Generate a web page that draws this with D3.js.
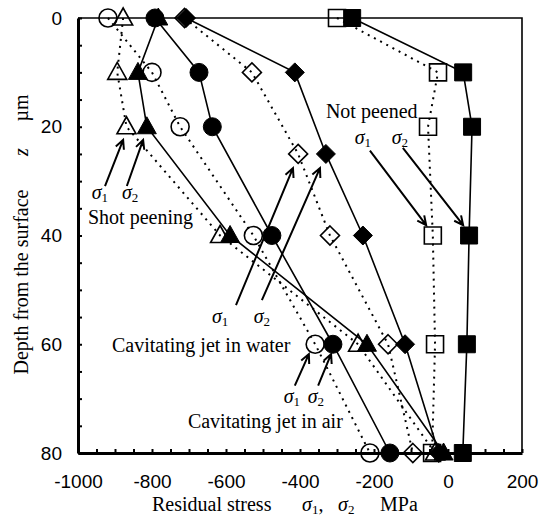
<!DOCTYPE html>
<html>
<head>
<meta charset="utf-8">
<title>Residual stress vs depth</title>
<script src="https://cdn.jsdelivr.net/npm/d3@7"></script>
<style>
body { margin: 0; background: #fff; }
.tick text { font-family: "Liberation Sans", Arial, sans-serif; font-size: 19px; fill: #000; }
.serif { font-family: "Liberation Serif", "Times New Roman", serif; font-size: 20px; fill: #000; }
</style>
</head>
<body>
<script>
// depth below surface, um
var depth = [0, 10, 20, 40, 60, 80];
var depthWater = [0, 10, 25, 40, 60, 80];

// residual stress, MPa  (sigma1 = open marker + dotted, sigma2 = filled + solid)
var shotSigma1 = [-878, -894, -869, -616, -243, -35];
var shotSigma2 = [-783, -838, -814, -589, -219, -12];
var waterSigma1 = [-712, -530, -405, -319, -162, -95];
var waterSigma2 = [-708, -414, -330, -230, -116, -25];
var airSigma1 = [-919, -800, -724, -526, -359, -211];
var airSigma2 = [-792, -673, -637, -476, -311, -157];
var plainSigma1 = [-300, -27, -54, -41, -35, -43];
var plainSigma2 = [-259, 41, 65, 57, 51, 40];

var xTicks = d3.range(-1000, 201, 50);
var xLabels = [-1000, -800, -600, -400, -200, 0, 200];
var yTicks = d3.range(0, 81, 5);
var yLabels = [0, 20, 40, 60, 80];

var series = [
  { shape: "triangle", depth: depth, s1: shotSigma1, s2: shotSigma2 },
  { shape: "diamond", depth: depthWater, s1: waterSigma1, s2: waterSigma2 },
  { shape: "circle", depth: depth, s1: airSigma1, s2: airSigma2 },
  { shape: "square", depth: depth, s1: plainSigma1, s2: plainSigma2 }
];

// annotations (in data units: MPa, um)
var notes = [
  { t: "Shot peening", v: -973, d: 37.9 },
  { t: "Cavitating jet in water", v: -908, d: 61.4 },
  { t: "Cavitating jet in air", v: -703, d: 75.4 },
  { t: "Not peened", v: -330, d: 18.3 }
];
var sigmaNotes = [
  { n: "1", v: -941, d: 33.3 }, { n: "2", v: -859, d: 33.3 },
  { n: "1", v: -616, d: 56.1 }, { n: "2", v: -503, d: 56.1 },
  { n: "1", v: -422, d: 70.8 }, { n: "2", v: -357, d: 70.8 },
  { n: "1", v: -230, d: 23.1 }, { n: "2", v: -130, d: 23.1 }
];
var arrows = [
  [-927, 30.9, -878, 22.4], [-868, 30.9, -824, 22.4],
  [-573, 52.8, -419, 27.6], [-503, 51.9, -346, 27.6],
  [-414, 67.6, -376, 61.8], [-351, 67.6, -316, 61.8],
  [-211, 24.4, -59, 38.1], [-122, 23.9, 41, 38.1]
];

var W = 539, H = 518;
var svg = d3.select("body").append("svg").attr("width", W).attr("height", H);

var x = d3.scaleLinear().domain([-1000, 200]).range([78, 522]);
var y = d3.scaleLinear().domain([0, 80]).range([18, 453]);

// top / right frame
svg.append("path")
  .attr("d", "M" + x(-1000) + "," + y(0) + "H" + x(200) + "V" + y(80))
  .attr("fill", "none").attr("stroke", "#000").attr("stroke-width", 1.6);

svg.append("g")
  .attr("transform", "translate(0," + y(80) + ")")
  .call(d3.axisBottom(x).tickValues(xTicks).tickSize(-4).tickSizeOuter(0).tickPadding(22)
    .tickFormat(function (d) { return xLabels.indexOf(d) >= 0 ? String(d) : ""; }));
svg.append("g")
  .attr("transform", "translate(" + x(-1000) + ",0)")
  .call(d3.axisLeft(y).tickValues(yTicks).tickSize(-4).tickSizeOuter(0).tickPadding(16)
    .tickFormat(function (d) { return yLabels.indexOf(d) >= 0 ? String(d) : ""; }));
svg.selectAll(".domain").attr("stroke-width", 3).attr("stroke", "#000");
svg.selectAll(".tick line").attr("stroke-width", 2).attr("stroke", "#000");

// marker shapes
function shapePath(kind) {
  if (kind === "circle") return d3.symbol(d3.symbolCircle, Math.PI * 9 * 9)();
  if (kind === "triangle") return "M0,-10L9.5,7L-9.5,7Z";
  if (kind === "square") return "M-8.5,-8.5h17v17h-17Z";
  return "M0,-9.5L9.5,0L0,9.5L-9.5,0Z";
}

var line = d3.line()
  .x(function (p) { return x(p[0]); })
  .y(function (p) { return y(p[1]); });

series.forEach(function (s) {
  s.p1 = s.s1.map(function (v, i) { return [v, s.depth[i]]; });
  s.p2 = s.s2.map(function (v, i) { return [v, s.depth[i]]; });
  svg.append("path").attr("d", line(s.p1))
    .attr("fill", "none").attr("stroke", "#000").attr("stroke-width", 2)
    .attr("stroke-dasharray", "2,5");
  svg.append("path").attr("d", line(s.p2))
    .attr("fill", "none").attr("stroke", "#000").attr("stroke-width", 1.6);
});

series.forEach(function (s) {
  svg.selectAll(null).data(s.p1).enter().append("path")
    .attr("d", shapePath(s.shape))
    .attr("transform", function (p) { return "translate(" + x(p[0]) + "," + y(p[1]) + ")"; })
    .attr("fill", "none").attr("stroke", "#000").attr("stroke-width", 1.6);
});
series.forEach(function (s) {
  svg.selectAll(null).data(s.p2).enter().append("path")
    .attr("d", shapePath(s.shape))
    .attr("transform", function (p) { return "translate(" + x(p[0]) + "," + y(p[1]) + ")"; })
    .attr("fill", "#000").attr("stroke", "#000").attr("stroke-width", 1);
});

// annotation texts
svg.selectAll(null).data(notes).enter().append("text")
  .attr("class", "serif")
  .attr("x", function (d) { return x(d.v); })
  .attr("y", function (d) { return y(d.d); })
  .text(function (d) { return d.t; });

function sigma(sel, n) {
  sel.append("tspan").style("font-style", "italic").text("\u03c3");
  sel.append("tspan").attr("dy", 3).style("font-size", "13px").text(n);
}

svg.selectAll(null).data(sigmaNotes).enter().append("text")
  .attr("class", "serif")
  .attr("text-anchor", "middle")
  .attr("x", function (d) { return x(d.v); })
  .attr("y", function (d) { return y(d.d); })
  .each(function (d) { sigma(d3.select(this), d.n); });

// arrows with open heads
arrows.forEach(function (a) {
  var x1 = x(a[0]), y1 = y(a[1]), x2 = x(a[2]), y2 = y(a[3]);
  var ang = Math.atan2(y2 - y1, x2 - x1);
  var L = 10, sp = 0.45;
  var hx1 = x2 - L * Math.cos(ang - sp), hy1 = y2 - L * Math.sin(ang - sp);
  var hx2 = x2 - L * Math.cos(ang + sp), hy2 = y2 - L * Math.sin(ang + sp);
  svg.append("path")
    .attr("d", "M" + x1 + "," + y1 + "L" + x2 + "," + y2 +
      "M" + hx1 + "," + hy1 + "L" + x2 + "," + y2 + "L" + hx2 + "," + hy2)
    .attr("fill", "none").attr("stroke", "#000").attr("stroke-width", 2);
});

// axis titles
svg.append("text").attr("class", "serif").attr("x", 152).attr("y", 511).text("Residual stress");
svg.append("text").attr("class", "serif").attr("x", 302).attr("y", 511)
  .call(function (t) { sigma(t, "1"); t.append("tspan").attr("dy", -3).text(","); });
svg.append("text").attr("class", "serif").attr("x", 338).attr("y", 511)
  .call(function (t) { sigma(t, "2"); });
svg.append("text").attr("class", "serif").attr("x", 380).attr("y", 511).text("MPa");

var yt = svg.append("g").attr("transform", "translate(28,0)");
yt.append("text").attr("class", "serif").attr("text-anchor", "middle")
  .attr("transform", "translate(0,282) rotate(-90)").text("Depth from the surface");
yt.append("text").attr("class", "serif").attr("text-anchor", "middle")
  .style("font-style", "italic")
  .attr("transform", "translate(0,152) rotate(-90)").text("z");
yt.append("text").attr("class", "serif").attr("text-anchor", "middle")
  .attr("transform", "translate(0,108) rotate(-90)").text("\u00b5m");
</script>
</body>
</html>
